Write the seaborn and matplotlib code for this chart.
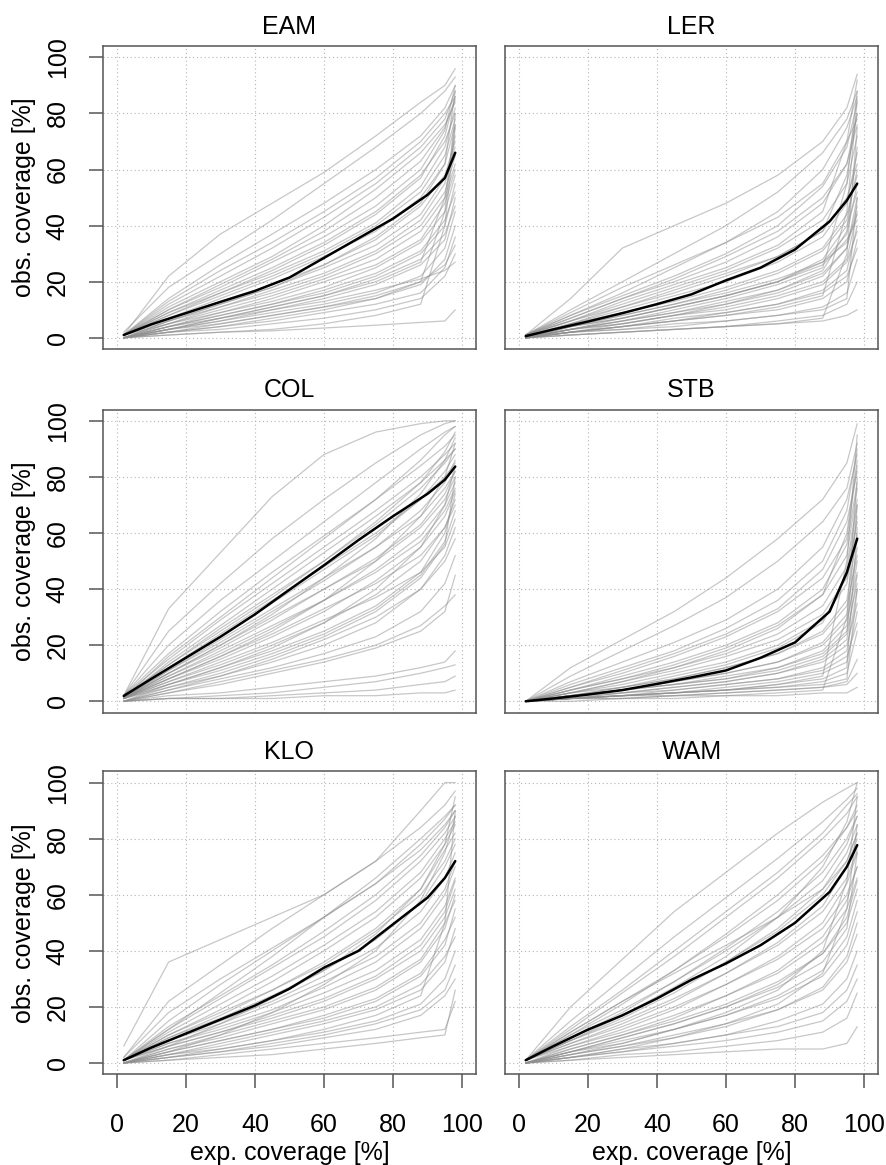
# Coverage curves per region: observed vs expected coverage

import pandas as pd
import matplotlib
matplotlib.use('Agg')
import matplotlib.pyplot as plt
import seaborn as sns

# -----------------------------
# data
# -----------------------------
panels = ['EAM', 'LER', 'COL', 'STB', 'KLO', 'WAM']

# x positions (exp. coverage [%]) for the grey single curves and the mean curve
x_grey = [2, 15, 30, 45, 60, 75, 88, 95, 98]
x_mean = [2, 10, 20, 30, 40, 50, 60, 70, 80, 90, 95, 98]

# mean curves (black)
eam_mean = [1, 4.8, 8.8, 12.8, 16.7, 21.5, 28.5, 35.5, 42.5, 51, 57, 66]
ler_mean = [0.6, 3, 5.8, 8.8, 12, 15.5, 20.5, 25, 31.5, 41.5, 49, 55]
col_mean = [1.9, 8, 15.5, 23, 31, 39.8, 48.5, 57.5, 66, 74, 79, 83.7]
stb_mean = [0, 1, 2.4, 4, 6.2, 8.5, 11, 15.5, 21, 32, 46, 58]
klo_mean = [1, 5.5, 10.5, 15.5, 20.5, 26.5, 34, 40, 49.5, 59, 66, 72]
wam_mean = [1, 6, 11.9, 17, 23, 29.7, 35.5, 42, 50, 61, 70, 77.7]

# single curves (grey)
eam_grey = [
    [1, 22, 37, 48, 59, 72, 84, 90, 96],
    [2, 18, 30, 42, 55, 68, 80, 88, 93],
    [1, 14, 26, 37, 48, 60, 72, 82, 90],
    [1, 12, 22, 32, 43, 55, 68, 78, 88],
    [1, 10, 19, 28, 38, 50, 63, 75, 85],
    [1, 9, 17, 25, 34, 45, 58, 70, 80],
    [1, 8, 15, 22, 30, 40, 52, 65, 78],
    [1, 7, 13, 19, 26, 35, 47, 58, 70],
    [0, 6, 11, 17, 23, 31, 42, 55, 72],
    [1, 5, 10, 15, 21, 28, 38, 50, 62],
    [0, 4, 9, 13, 18, 25, 34, 45, 58],
    [0, 4, 8, 12, 16, 22, 30, 40, 55],
    [0, 3, 7, 10, 14, 19, 26, 35, 50],
    [0, 3, 6, 9, 12, 16, 22, 32, 45],
    [0, 2, 5, 8, 11, 14, 19, 28, 40],
    [0, 2, 4, 6, 9, 12, 16, 25, 36],
    [0, 2, 3, 5, 7, 10, 14, 22, 30],
    [0, 1, 2, 3, 5, 8, 12, 40, 75],
    [0, 1, 2, 2.5, 3.5, 4.5, 5.5, 6, 10],
    [0, 2, 4, 7, 10, 14, 20, 45, 80],
    [1, 6, 12, 18, 26, 36, 48, 62, 88],
    [1, 11, 20, 29, 40, 53, 66, 76, 84],
    [0, 3, 6, 10, 13, 17, 21, 24, 27],
    [1, 9, 16, 23, 31, 41, 54, 68, 82],
    [1, 7, 14, 21, 29, 38, 50, 62, 76],
    [0, 6, 12, 18, 25, 33, 44, 57, 68],
    [0, 5, 11, 16, 22, 30, 40, 52, 65],
    [0, 5, 9, 14, 20, 26, 35, 48, 60],
    [0, 4, 8, 12, 17, 23, 31, 42, 52],
    [0, 3, 7, 11, 15, 21, 28, 37, 47],
    [1, 8, 16, 24, 33, 44, 57, 72, 86],
    [1, 10, 18, 27, 36, 47, 60, 74, 90],
    [0, 4, 7, 11, 15, 20, 27, 50, 76],
    [0, 3, 5, 8, 11, 15, 20, 26, 33],
    [1, 13, 24, 34, 45, 57, 70, 80, 86],
]
ler_grey = [
    [1, 14, 32, 40, 48, 58, 70, 82, 94],
    [1, 10, 20, 30, 40, 52, 66, 78, 88],
    [1, 8, 16, 25, 34, 45, 60, 75, 86],
    [1, 7, 14, 21, 29, 38, 50, 62, 80],
    [1, 6, 12, 18, 24, 32, 42, 55, 72],
    [0, 5, 10, 15, 20, 27, 36, 48, 66],
    [0, 4, 8, 12, 17, 23, 31, 42, 60],
    [0, 4, 7, 11, 15, 20, 27, 37, 55],
    [0, 3, 6, 9, 13, 17, 23, 32, 50],
    [0, 3, 5, 8, 11, 15, 20, 28, 45],
    [0, 2, 4, 7, 9, 12, 17, 24, 40],
    [0, 2, 4, 6, 8, 10, 14, 20, 35],
    [0, 2, 3, 5, 6, 8, 11, 16, 28],
    [0, 1, 2, 3, 4, 6, 8, 12, 20],
    [0, 1, 2, 3, 4, 5, 6, 8, 10],
    [0, 1, 2, 3, 4, 5, 7, 30, 75],
    [0, 2, 4, 6, 8, 11, 15, 45, 85],
    [1, 6, 13, 19, 25, 33, 45, 70, 92],
    [0, 3, 7, 11, 15, 20, 26, 35, 42],
    [1, 5, 11, 17, 23, 29, 38, 58, 80],
    [0, 2, 5, 8, 12, 17, 24, 38, 68],
    [1, 6, 11, 16, 22, 29, 38, 50, 62],
    [0, 5, 9, 13, 18, 24, 32, 44, 58],
    [0, 4, 7, 11, 15, 20, 28, 40, 52],
    [0, 3, 6, 9, 12, 16, 22, 32, 47],
    [0, 3, 5, 8, 10, 14, 19, 27, 38],
    [0, 2, 4, 6, 9, 12, 16, 22, 32],
    [1, 7, 14, 20, 27, 36, 48, 62, 76],
    [1, 8, 15, 22, 30, 40, 54, 68, 84],
    [0, 4, 8, 12, 16, 21, 27, 34, 44],
    [0, 2, 3, 4, 6, 8, 10, 14, 50],
    [1, 9, 18, 26, 34, 43, 55, 70, 78],
    [0, 3, 6, 10, 14, 19, 25, 55, 88],
]
col_grey = [
    [2, 33, 53, 73, 88, 96, 99, 100, 100],
    [2, 25, 42, 58, 72, 85, 95, 99, 100],
    [2, 20, 36, 50, 64, 78, 90, 96, 98],
    [2, 17, 32, 46, 59, 72, 84, 91, 95],
    [2, 15, 29, 42, 55, 68, 80, 88, 92],
    [2, 13, 26, 38, 50, 63, 76, 85, 90],
    [1, 12, 23, 35, 47, 59, 72, 82, 88],
    [1, 11, 21, 32, 43, 55, 68, 78, 86],
    [1, 10, 19, 29, 40, 51, 63, 74, 82],
    [1, 9, 17, 26, 36, 47, 59, 70, 78],
    [1, 8, 15, 23, 32, 43, 55, 66, 75],
    [1, 7, 13, 20, 28, 38, 50, 62, 72],
    [1, 6, 11, 17, 24, 33, 45, 57, 68],
    [1, 5, 9, 14, 20, 28, 40, 52, 62],
    [0, 4, 8, 12, 17, 23, 32, 42, 52],
    [0, 3, 7, 11, 15, 20, 27, 34, 38],
    [0, 2, 3, 5, 7, 9, 12, 14, 18],
    [0, 1, 2, 3, 5, 7, 10, 12, 13],
    [0, 1, 1, 2, 3, 4, 6, 7, 9],
    [0, 1, 1, 1, 2, 2, 3, 3, 4],
    [1, 10, 20, 31, 44, 58, 74, 86, 94],
    [1, 8, 16, 25, 36, 50, 66, 80, 92],
    [1, 6, 12, 19, 28, 40, 55, 70, 84],
    [0, 5, 10, 16, 23, 32, 44, 56, 80],
    [1, 14, 27, 40, 53, 66, 78, 86, 90],
    [1, 12, 24, 36, 48, 60, 72, 80, 85],
    [1, 11, 22, 33, 44, 55, 66, 76, 82],
    [1, 10, 20, 30, 40, 50, 62, 72, 80],
    [1, 9, 18, 27, 36, 46, 57, 68, 76],
    [1, 8, 16, 24, 33, 42, 52, 62, 70],
    [1, 7, 14, 21, 29, 37, 46, 55, 65],
    [1, 16, 30, 44, 58, 72, 86, 95, 98],
    [1, 13, 25, 37, 50, 64, 78, 89, 96],
    [0, 6, 12, 18, 25, 34, 46, 60, 74],
    [0, 4, 9, 15, 22, 30, 40, 50, 58],
    [0, 3, 6, 10, 14, 19, 25, 32, 45],
]
stb_grey = [
    [0, 12, 22, 32, 44, 58, 72, 85, 99],
    [0, 9, 18, 27, 37, 50, 64, 76, 92],
    [0, 7, 14, 21, 29, 40, 55, 72, 88],
    [0, 5, 11, 17, 24, 33, 47, 64, 82],
    [0, 4, 9, 14, 20, 28, 40, 56, 78],
    [0, 4, 8, 12, 17, 24, 34, 48, 72],
    [0, 3, 6, 10, 14, 20, 29, 42, 66],
    [0, 3, 5, 8, 12, 17, 25, 36, 60],
    [0, 2, 4, 7, 10, 14, 21, 31, 55],
    [0, 2, 4, 6, 8, 12, 18, 27, 50],
    [0, 2, 3, 5, 7, 10, 15, 22, 45],
    [0, 1, 3, 4, 6, 8, 12, 18, 40],
    [0, 1, 2, 3, 5, 7, 10, 14, 32],
    [0, 1, 2, 3, 4, 5, 7, 10, 25],
    [0, 1, 1, 2, 3, 4, 5, 7, 15],
    [0, 0, 1, 1, 2, 2, 3, 3, 5],
    [0, 1, 1, 2, 2, 3, 4, 30, 80],
    [0, 1, 2, 3, 4, 6, 9, 50, 95],
    [0, 3, 7, 12, 18, 26, 38, 60, 86],
    [0, 2, 5, 9, 13, 19, 28, 45, 70],
    [0, 1, 2, 2, 3, 4, 5, 6, 10],
    [0, 3, 7, 11, 16, 22, 31, 44, 64],
    [0, 2, 5, 8, 12, 17, 24, 34, 52],
    [0, 2, 4, 7, 10, 14, 20, 29, 46],
    [0, 2, 4, 6, 9, 12, 17, 25, 42],
    [0, 1, 3, 5, 7, 10, 14, 20, 35],
    [0, 1, 2, 4, 6, 8, 11, 16, 28],
    [0, 4, 8, 13, 19, 27, 38, 52, 76],
    [0, 5, 10, 16, 23, 32, 44, 58, 84],
    [0, 6, 12, 18, 26, 36, 50, 68, 90],
    [0, 1, 2, 3, 4, 6, 8, 12, 62],
    [0, 1, 2, 3, 4, 5, 6, 8, 40],
    [0, 2, 4, 6, 8, 11, 16, 24, 70],
]
klo_grey = [
    [6, 36, 44, 52, 60, 72, 90, 100, 100],
    [2, 22, 35, 48, 60, 72, 84, 92, 97],
    [1, 15, 28, 40, 52, 64, 78, 87, 92],
    [1, 12, 23, 34, 45, 58, 72, 82, 88],
    [1, 10, 19, 29, 40, 52, 66, 78, 85],
    [1, 9, 17, 26, 35, 47, 60, 72, 80],
    [1, 8, 15, 22, 31, 41, 54, 66, 75],
    [1, 7, 13, 19, 27, 36, 48, 60, 70],
    [1, 6, 11, 17, 23, 31, 42, 54, 65],
    [0, 5, 9, 14, 19, 26, 36, 48, 60],
    [0, 4, 8, 12, 16, 22, 31, 42, 55],
    [0, 3, 6, 10, 14, 19, 26, 36, 48],
    [0, 3, 5, 8, 11, 15, 21, 30, 40],
    [0, 2, 4, 6, 9, 12, 17, 24, 30],
    [0, 1, 3, 5, 7, 9, 11, 12, 22],
    [0, 1, 2, 3, 5, 7, 9, 10, 26],
    [0, 2, 5, 8, 12, 17, 24, 50, 90],
    [1, 12, 25, 38, 52, 66, 80, 88, 92],
    [0, 4, 10, 18, 28, 40, 58, 75, 88],
    [1, 6, 14, 23, 33, 46, 62, 78, 95],
    [1, 9, 16, 24, 33, 44, 57, 70, 78],
    [1, 8, 14, 21, 29, 38, 50, 62, 72],
    [1, 7, 12, 18, 25, 33, 44, 56, 66],
    [0, 6, 11, 16, 22, 30, 40, 52, 62],
    [0, 5, 10, 15, 20, 27, 37, 50, 58],
    [0, 4, 8, 12, 17, 23, 32, 44, 52],
    [1, 11, 21, 31, 42, 54, 68, 80, 86],
    [1, 13, 24, 35, 47, 60, 74, 84, 90],
    [2, 18, 30, 41, 52, 64, 76, 85, 90],
    [0, 3, 7, 11, 15, 20, 28, 38, 45],
    [0, 2, 4, 7, 10, 14, 19, 26, 35],
    [1, 10, 18, 26, 36, 48, 62, 76, 82],
]
wam_grey = [
    [1, 20, 37, 54, 68, 82, 93, 98, 100],
    [1, 15, 30, 45, 59, 73, 86, 94, 98],
    [1, 12, 25, 38, 52, 66, 80, 89, 95],
    [1, 10, 21, 33, 46, 60, 74, 84, 92],
    [1, 9, 18, 29, 41, 54, 68, 80, 88],
    [1, 8, 16, 25, 36, 48, 62, 75, 85],
    [1, 7, 14, 22, 32, 43, 56, 70, 80],
    [1, 6, 12, 19, 28, 38, 50, 64, 75],
    [0, 5, 10, 16, 24, 33, 45, 58, 70],
    [0, 4, 9, 14, 20, 28, 39, 52, 65],
    [0, 4, 7, 12, 17, 24, 33, 45, 58],
    [0, 3, 6, 9, 13, 19, 27, 38, 50],
    [0, 2, 5, 7, 10, 15, 21, 30, 40],
    [0, 2, 4, 6, 8, 11, 15, 22, 30],
    [0, 1, 2, 3, 4, 5, 5, 7, 13],
    [0, 1, 3, 4, 6, 8, 11, 16, 25],
    [0, 3, 7, 12, 18, 26, 40, 65, 95],
    [1, 8, 17, 27, 38, 52, 70, 86, 100],
    [0, 2, 5, 9, 14, 21, 32, 55, 85],
    [1, 11, 22, 32, 42, 52, 62, 72, 82],
    [1, 9, 17, 26, 36, 47, 60, 72, 82],
    [1, 8, 15, 23, 32, 42, 54, 66, 76],
    [1, 7, 13, 20, 28, 37, 48, 60, 70],
    [0, 6, 11, 17, 24, 32, 43, 55, 66],
    [0, 5, 10, 15, 21, 29, 39, 50, 62],
    [0, 4, 8, 12, 17, 23, 31, 42, 54],
    [1, 11, 22, 33, 45, 58, 72, 84, 90],
    [1, 13, 26, 40, 54, 68, 82, 92, 96],
    [0, 3, 6, 10, 14, 19, 26, 36, 46],
    [0, 2, 4, 7, 10, 13, 18, 26, 35],
    [1, 10, 19, 29, 40, 52, 65, 78, 88],
    [0, 4, 9, 14, 20, 27, 36, 48, 75],
]

means = [eam_mean, ler_mean, col_mean, stb_mean, klo_mean, wam_mean]
greys = [eam_grey, ler_grey, col_grey, stb_grey, klo_grey, wam_grey]

# -----------------------------
# long format tables
# -----------------------------
rows = []
for name, curves in zip(panels, greys):
    for k, ys in enumerate(curves):
        for x, y in zip(x_grey, ys):
            rows.append((name, k, x, y))
grey_df = pd.DataFrame(rows, columns=['panel', 'curve', 'x', 'y'])

rows = []
for name, ys in zip(panels, means):
    for x, y in zip(x_mean, ys):
        rows.append((name, x, y))
mean_df = pd.DataFrame(rows, columns=['panel', 'x', 'y'])

# -----------------------------
# plot
# -----------------------------
sns.set_style('white')
plt.rcParams['font.family'] = ['Liberation Sans', 'DejaVu Sans']
plt.rcParams['text.color'] = 'black'
plt.rcParams['axes.labelcolor'] = 'black'
plt.rcParams['xtick.labelcolor'] = 'black'
plt.rcParams['ytick.labelcolor'] = 'black'

fig = plt.figure(figsize=(8.87, 11.65), dpi=100)
lefts = [0.1161, 0.5693]
bottoms = [0.7004, 0.3884, 0.0779]
w, h = 0.4205, 0.26
ticks = [0, 20, 40, 60, 80, 100]
frame = '#555555'
fs = 18

for i, name in enumerate(panels):
    r, c = divmod(i, 2)
    ax = fig.add_axes([lefts[c], bottoms[r], w, h])

    sns.lineplot(data=grey_df[grey_df['panel'] == name], x='x', y='y',
                 units='curve', estimator=None, color='#909090', alpha=0.5,
                 lw=0.9, legend=False, ax=ax)
    sns.lineplot(data=mean_df[mean_df['panel'] == name], x='x', y='y',
                 color='black', lw=1.8, legend=False, ax=ax)

    ax.set_xlim(-4, 104)
    ax.set_ylim(-4, 104)
    ax.set_xticks(ticks)
    ax.set_yticks(ticks)
    ax.grid(True, linestyle=(0, (1, 2.5)), color='#b5b5b5', lw=0.8)
    ax.set_axisbelow(True)
    for s in ax.spines.values():
        s.set_color(frame)
        s.set_linewidth(1.1)

    ax.set_title(name, fontsize=fs, pad=9)
    ax.set_xlabel('')
    ax.set_ylabel('')

    if c == 0:
        ax.tick_params(axis='y', length=10, width=1.1, color=frame,
                       labelsize=fs, pad=14, direction='out', left=True)
        for lab in ax.get_yticklabels():
            lab.set_rotation(90)
            lab.set_va('center')
        ax.set_ylabel('obs. coverage [%]', fontsize=fs, labelpad=7)
    else:
        ax.tick_params(axis='y', left=False, labelleft=False)

    if r == 2:
        ax.tick_params(axis='x', length=10, width=1.1, color=frame,
                       labelsize=fs, pad=18, direction='out', bottom=True)
        ax.set_xlabel('exp. coverage [%]', fontsize=fs, labelpad=3)
    else:
        ax.tick_params(axis='x', bottom=False, labelbottom=False)

fig.savefig('out.png', dpi=100)
